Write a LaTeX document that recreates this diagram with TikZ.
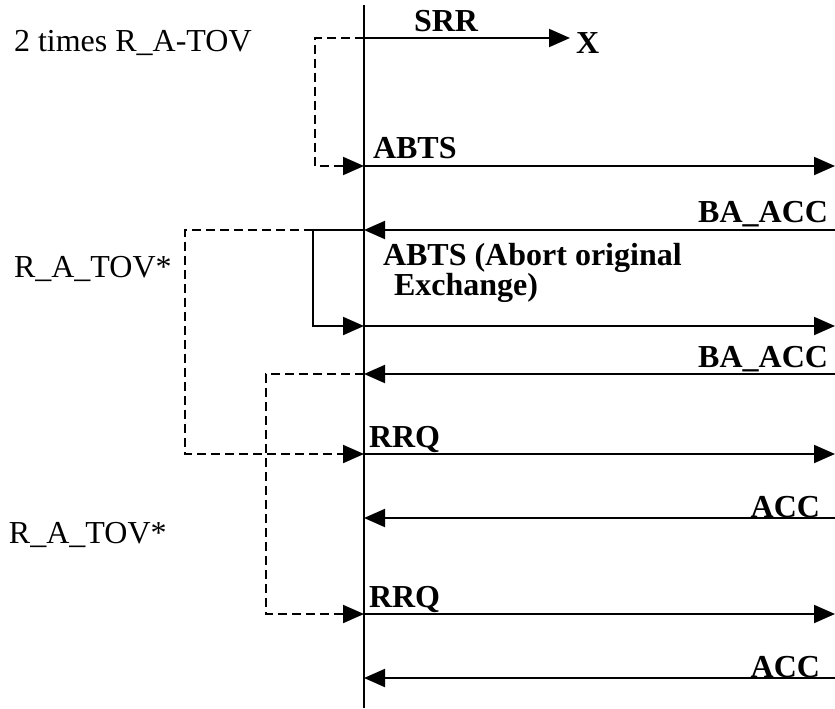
\documentclass[tikz,border=0pt]{standalone}
\usepackage{fontspec}
\setmainfont{Liberation Serif}
\usetikzlibrary{arrows.meta}
\begin{document}
\begin{tikzpicture}[x=1pt,y=-1pt,
  line width=2pt,
  tipr/.style={-{Triangle[length=21pt,width=18pt]}},
  dashline/.style={dash pattern=on 9pt off 5pt},
  blbl/.style={font=\fontsize{32}{36}\selectfont\bfseries, inner sep=0pt},
  rlbl/.style={font=\fontsize{32}{36}\selectfont, inner sep=0pt}]
\useasboundingbox (0,0) rectangle (835,709);

% lifeline
\coordinate (top) at (364,5);
\coordinate (bot) at (364,708);
\draw (top) -- (bot);

% points on lifeline
\coordinate (l1) at (364,38);
\coordinate (l2) at (364,166);
\coordinate (l3) at (364,230);
\coordinate (l4) at (364,326);
\coordinate (l5) at (364,374);
\coordinate (l6) at (364,454);
\coordinate (l7) at (364,518);
\coordinate (l8) at (364,614);
\coordinate (l9) at (364,678);

% far ends
\coordinate (x1) at (570,38);
\coordinate (r2) at (835,166);
\coordinate (r3) at (835,230);
\coordinate (r4) at (835,326);
\coordinate (r5) at (835,374);
\coordinate (r6) at (835,454);
\coordinate (r7) at (835,518);
\coordinate (r8) at (835,614);
\coordinate (r9) at (835,678);

% messages
\draw[tipr] (l1) -- (x1);
\draw[tipr] (l2) -- (r2);
\draw[tipr] (r3) -- (l3);
\draw[tipr] (l4) -- (r4);
\draw[tipr] (r5) -- (l5);
\draw[tipr] (l6) -- (r6);
\draw[tipr] (r7) -- (l7);
\draw[tipr] (l8) -- (r8);
\draw[tipr] (r9) -- (l9);

% timers
\coordinate (b3) at (313,230);
\draw[dashline,tipr] (l1) -- (315,38) -- (315,166) -- (l2);
\draw[tipr] (l3) -- (b3) -- (313,326) -- (l4);
\draw[dashline,tipr] (b3) -- (185,230) -- (185,454) -- (l6);
\draw[dashline,tipr] (l5) -- (266,374) -- (266,614) -- (l8);

% labels
\node[blbl, anchor=base west] (srr) at (413,32) {SRR};
\node[blbl, anchor=base west] (xx) at (575,53) {X};
\node[rlbl, anchor=base west] (t2) at (13,52) {2 times R\_A-TOV};
\node[blbl, anchor=base west] (abts) at (372,158) {ABTS};
\node[blbl, anchor=base east] (ba1) at (829,222) {BA\_ACC};
\node[blbl, anchor=base west] (abo1) at (382,265) {ABTS (Abort original};
\node[blbl, anchor=base west] (abo2) at (393,295) {Exchange)};
\node[rlbl, anchor=base west] (rat1) at (13,277) {R\_A\_TOV*};
\node[blbl, anchor=base east] (ba2) at (829,367) {BA\_ACC};
\node[blbl, anchor=base west] (rrq1) at (368,447) {RRQ};
\node[blbl, anchor=base east] (acc1) at (821,517) {ACC};
\node[rlbl, anchor=base west] (rat2) at (8,543) {R\_A\_TOV*};
\node[blbl, anchor=base west] (rrq2) at (368,607) {RRQ};
\node[blbl, anchor=base east] (acc2) at (821,677) {ACC};
\end{tikzpicture}
\end{document}
